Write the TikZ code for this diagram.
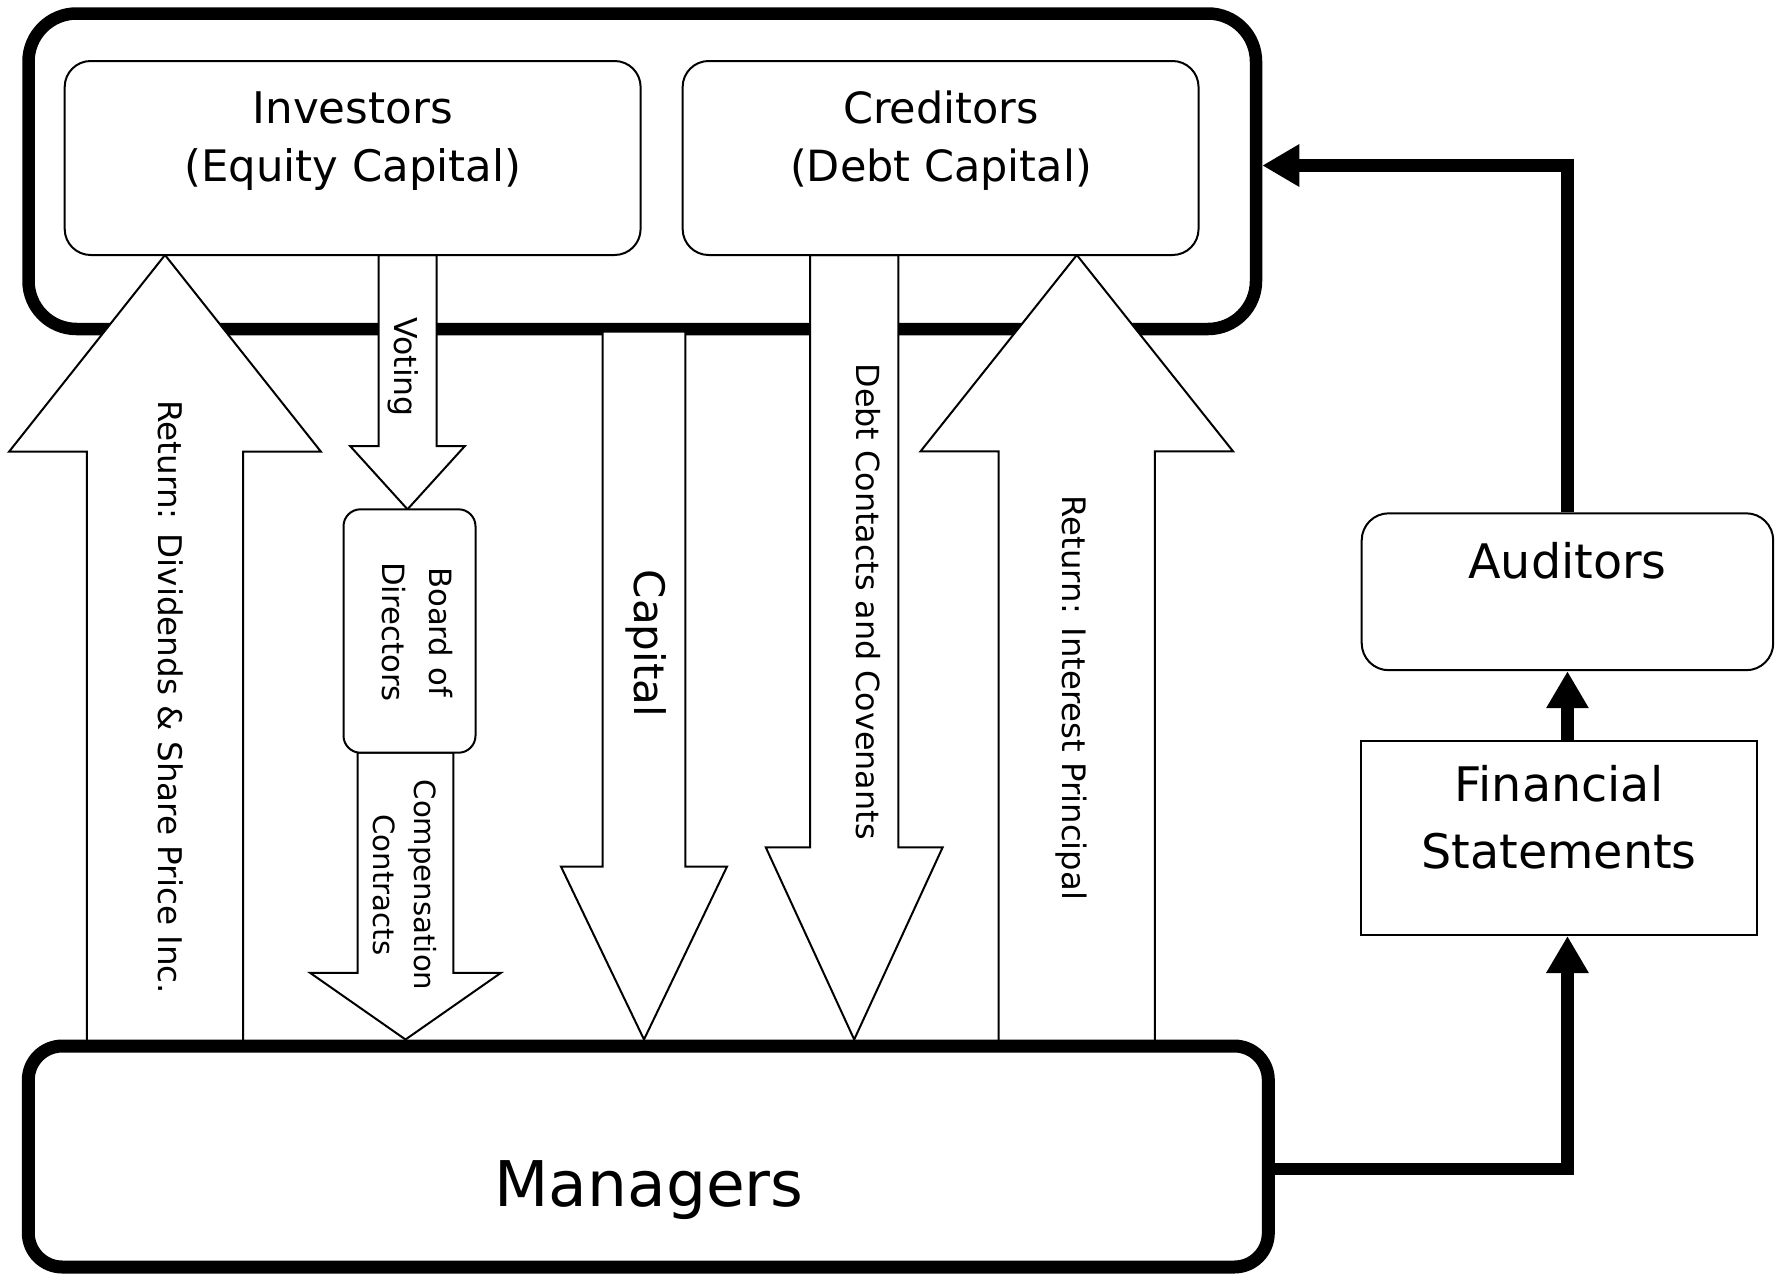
\documentclass[tikz,border=0pt]{standalone}
\usepackage{fontspec}
\setmainfont{DejaVu Sans}
\usetikzlibrary{arrows.meta}
\newcommand\blockarrow[6]{\draw[barrow] ({#1-#5},#2) -- ({#1-#5},#3) -- ({#1-#6},#3) -- (#1,#4) -- ({#1+#6},#3) -- ({#1+#5},#3) -- ({#1+#5},#2) -- cycle;}
\newcommand\fs[1]{\fontsize{#1}{#1}\selectfont}
\begin{document}
\begin{tikzpicture}[x=0.5pt,y=-0.5pt,
  bigbox/.style={draw, line width=6.25pt, inner sep=0pt},
  thinbox/.style={draw, line width=1pt, fill=white, inner sep=0pt},
  barrow/.style={draw, line width=1pt, fill=white, line join=miter},
  conn/.style={line width=6.25pt, -{Triangle[length=18.5pt,width=20pt]}},
  lbl/.style={inner sep=0pt, anchor=base}]
\fill[white] (0,0) rectangle (1781,1274);
\useasboundingbox (0,0) rectangle (1781,1274);

% top group box
\node[bigbox, rounded corners=24pt, minimum width=613.75pt, minimum height=157.75pt] (tb) at (642.25,171.25) {};

% block arrows
\blockarrow{165}{1042}{451.5}{255}{78.2}{155.8}
\blockarrow{407.5}{255}{446}{509.3}{29}{57.4}
\blockarrow{405.5}{752.7}{972.9}{1039.5}{47.8}{95.3}
\blockarrow{644}{331.5}{866.6}{1039.5}{41.3}{83}
\blockarrow{854.2}{255}{847.4}{1039.5}{44.2}{88.4}
\blockarrow{1076.8}{1042}{451.4}{255}{78.1}{156.3}

% boxes
\node[thinbox, rounded corners=13pt, minimum width=287.95pt, minimum height=97pt] (inv) at (352.65,158) {};
\node[thinbox, rounded corners=13pt, minimum width=257.95pt, minimum height=97pt] (cred) at (940.6,158) {};
\node[thinbox, rounded corners=8.5pt, minimum width=66pt, minimum height=121.7pt] (bod) at (409.5,631) {};
\node[bigbox, fill=white, line width=6.5pt, rounded corners=17pt, minimum width=620pt, minimum height=110.5pt] (mgr) at (648.3,1156.5) {};
\node[thinbox, rounded corners=13.5pt, minimum width=205.75pt, minimum height=78.45pt] (aud) at (1567.45,591.75) {};
\node[thinbox, minimum width=198pt, minimum height=97.15pt] (fin) at (1559,837.85) {};

% horizontal texts
\node[lbl, font=\fs{21.8}] (inv1) at (352.7,123.3) {Investors};
\node[lbl, font=\fs{21.7}] (inv2) at (352.7,181.7) {(Equity Capital)};
\node[lbl, font=\fs{21.5}] (cred1) at (941,123.3) {Creditors};
\node[lbl, font=\fs{21.5}] (cred2) at (941,181.7) {(Debt Capital)};
\node[lbl, font=\fs{23.8}] (audt) at (1567.5,578.4) {Auditors};
\node[lbl, font=\fs{23.8}] (fin1) at (1559,801.2) {Financial};
\node[lbl, font=\fs{23.8}] (fin2) at (1559,868) {Statements};
\node[lbl, font=\fs{31.5}] (mgrt) at (649,1206.7) {Managers};

% rotated texts
\node[lbl, rotate=-90, font=\fs{16.3}] (tdiv) at (158.5,697.4) {Return: Dividends \& Share Price Inc.};
\node[lbl, rotate=-90, font=\fs{15.75}] (tvot) at (394.5,367) {Voting};
\node[lbl, rotate=-90, font=\fs{15.35}] (tbod1) at (429,632) {Board of};
\node[lbl, rotate=-90, font=\fs{15.35}] (tbod2) at (382.6,632) {Directors};
\node[lbl, rotate=-90, font=\fs{14.6}] (tcomp1) at (414.2,885) {Compensation};
\node[lbl, rotate=-90, font=\fs{14.6}] (tcomp2) at (373.9,885) {Contracts};
\node[lbl, rotate=-90, font=\fs{21}] (tcap) at (634.5,643.4) {Capital};
\node[lbl, rotate=-90, font=\fs{15.9}] (tdebt) at (856,601.6) {Debt Contacts and Covenants};
\node[lbl, rotate=-90, font=\fs{16.15}] (tint) at (1062,698) {Return: Interest Principal};

% thick connectors
\draw[conn] (aud.north) |- ([yshift=2.875pt]tb.east);
\draw[conn] (fin.north -| aud.north) -- (aud.south);
\draw[conn] ([yshift=-6.25pt]mgr.east) -| (fin.south -| aud.north);
\end{tikzpicture}
\end{document}
